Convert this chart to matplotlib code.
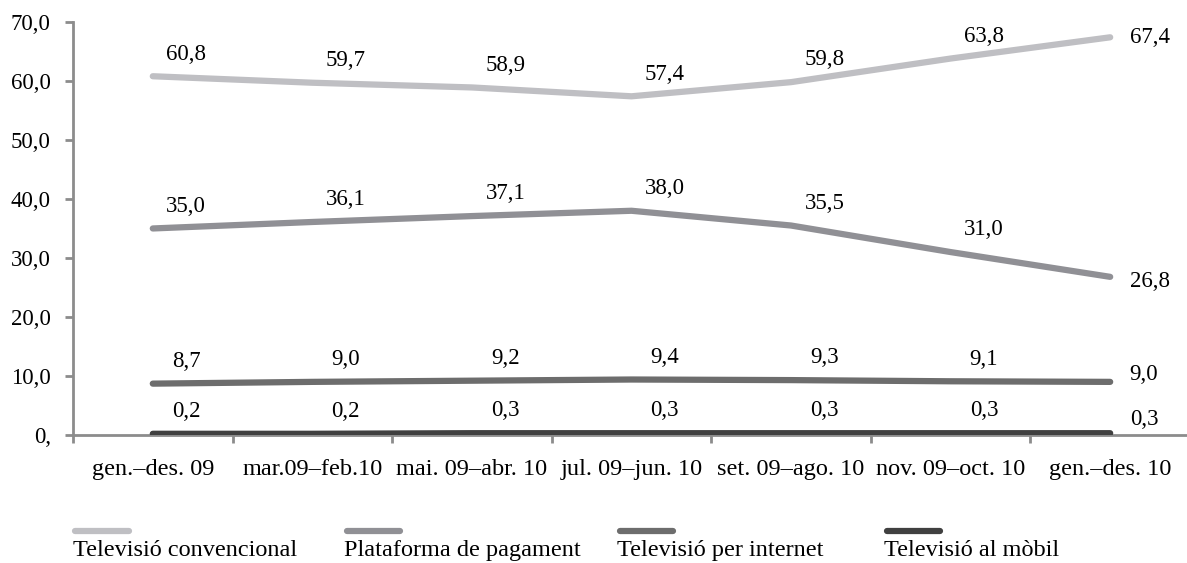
import matplotlib
matplotlib.use("Agg")
import matplotlib.pyplot as plt
from matplotlib.lines import Line2D

# dades
periodes = ["gen.–des. 09", "mar.09–feb.10", "mai. 09–abr. 10", "jul. 09–jun. 10",
            "set. 09–ago. 10", "nov. 09–oct. 10", "gen.–des. 10"]
convencional = [60.8, 59.7, 58.9, 57.4, 59.8, 63.8, 67.4]
plataforma = [35.0, 36.1, 37.1, 38.0, 35.5, 31.0, 26.8]
internet = [8.7, 9.0, 9.2, 9.4, 9.3, 9.1, 9.0]
mobil = [0.2, 0.2, 0.3, 0.3, 0.3, 0.3, 0.3]

series = [
    ("Televisió convencional", convencional, "#bfbfc3", 0),
    ("Plataforma de pagament", plataforma, "#909095", -3),
    ("Televisió per internet", internet, "#6d6d6d", 5),
    ("Televisió al mòbil", mobil, "#404040", 10),
]

y_ticks = [0, 10, 20, 30, 40, 50, 60, 70]
y_labels = ["0,", "10,0", "20,0", "30,0", "40,0", "50,0", "60,0", "70,0"]

plt.rcParams['font.family'] = ['Liberation Serif', 'DejaVu Serif']
FS = 16.5      # numeros
FS_TXT = 17.5  # etiquetes de text

fig = plt.figure(figsize=(11.87, 5.63), dpi=100)
ax = fig.add_axes([0.0615, 0.2274, 0.941, 0.7336])

x = list(range(len(periodes)))
for nom, vals, col, dy_last in series:
    ax.plot(x, vals, color=col, lw=4.5, solid_capstyle='round', zorder=3)
    for i, v in enumerate(vals):
        txt = f"{v:.1f}".replace(".", ",")
        if i == len(vals) - 1:
            ax.annotate(txt, (i, v), xytext=(14, dy_last), textcoords='offset points',
                        ha='left', va='center', fontsize=FS)
        else:
            ax.annotate(txt, (i, v), xytext=(24, 16), textcoords='offset points',
                        ha='center', va='center', fontsize=FS)

ax.set_xlim(-0.5, 6.5)
ax.set_ylim(0, 70)
ax.set_yticks(y_ticks)
ax.set_yticklabels(y_labels, fontsize=FS)
ax.set_xticks([i + 0.5 for i in range(-1, 7)])
ax.set_xticklabels([])
ax.set_xticks(x, minor=True)
ax.set_xticklabels(periodes, minor=True, fontsize=FS_TXT)
ax.tick_params(axis='x', which='minor', length=0, pad=17)
ax.tick_params(axis='x', which='major', length=6, width=2, color='#8c8c8c', direction='out')
ax.tick_params(axis='y', length=6, width=2, color='#8c8c8c', pad=10)

for s in ['top', 'right']:
    ax.spines[s].set_visible(False)
for s in ['left', 'bottom']:
    ax.spines[s].set_color('#8c8c8c')
    ax.spines[s].set_linewidth(2)

# llegenda
leg_x = [0.0615, 0.290, 0.520, 0.745]
for (nom, vals, col, _), lx in zip(series, leg_x):
    fig.add_artist(Line2D([lx + 0.002, lx + 0.047], [0.057, 0.057], transform=fig.transFigure,
                          color=col, lw=4.5, solid_capstyle='round'))
    fig.text(lx, 0.022, nom, fontsize=FS_TXT, ha='left', va='center')

fig.savefig("out.png", dpi=100)
